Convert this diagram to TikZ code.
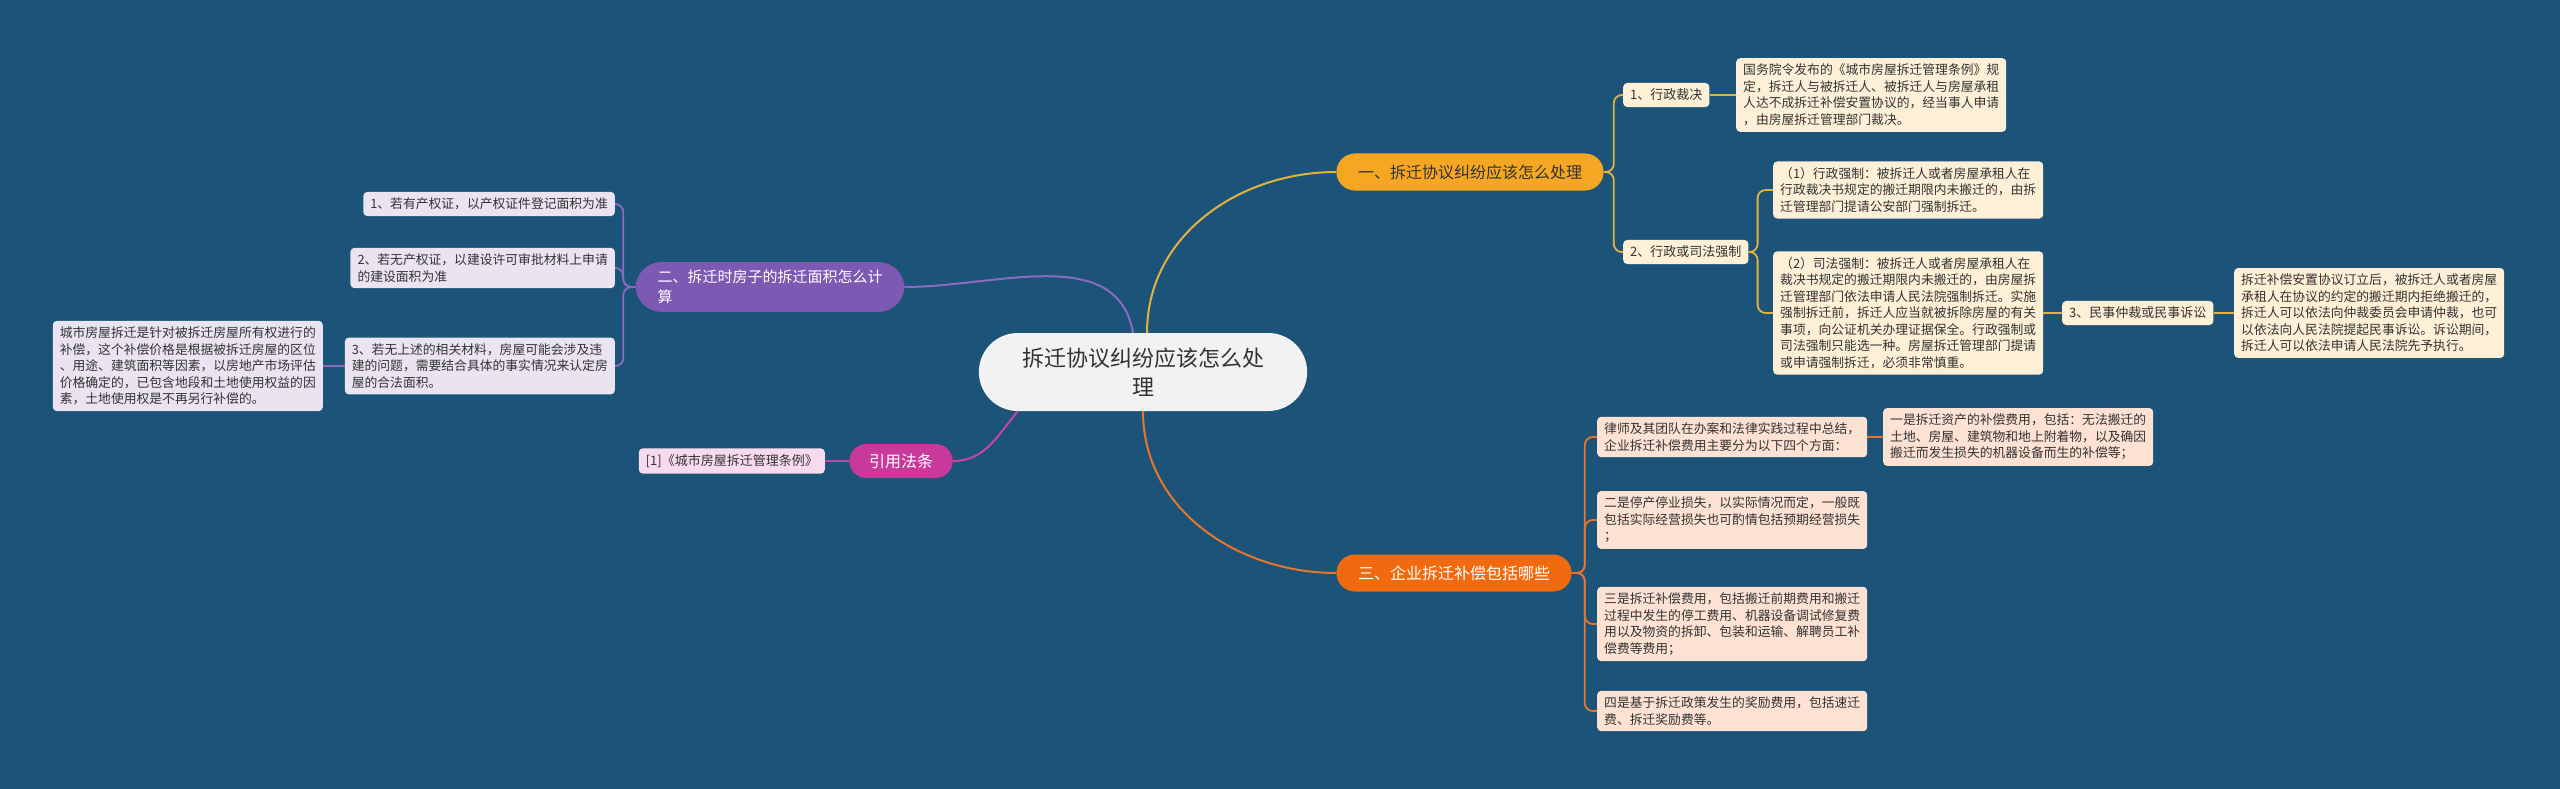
\documentclass[tikz,border=0pt]{standalone}
\usepackage{fontspec}
\setmainfont{Noto Sans CJK SC}
\usepackage{tikz}
\usetikzlibrary{shapes.misc}
\definecolor{bgblue}{HTML}{1B5478}
\definecolor{rootfill}{HTML}{F2F2F2}
\definecolor{txtdark}{HTML}{333333}
\definecolor{orgA}{HTML}{F5A623}
\definecolor{orgAline}{HTML}{E3B13E}
\definecolor{orgAbox}{HTML}{FDF0D6}
\definecolor{orgB}{HTML}{F26A10}
\definecolor{orgBline}{HTML}{E9742B}
\definecolor{orgBbox}{HTML}{FDE1D2}
\definecolor{purp}{HTML}{7E59B4}
\definecolor{purpline}{HTML}{8C6AC3}
\definecolor{purpbox}{HTML}{E9E3F2}
\definecolor{mag}{HTML}{C8399B}
\definecolor{magline}{HTML}{C8459E}
\definecolor{magbox}{HTML}{F7DAEE}
\tikzset{
  root/.style={rounded rectangle, fill=rootfill, text=txtdark, minimum width=335pt, minimum height=78pt, align=center, font=\fontsize{22}{29}\selectfont},
  branch/.style={rounded rectangle, inner xsep=20pt, minimum height=37pt, font=\fontsize{16}{21}\selectfont},
  subtopic/.style={rectangle, rounded corners=4pt, inner xsep=7pt, inner ysep=6pt, text=txtdark, font=\fontsize{13}{16}\selectfont},
  detail/.style={rectangle, rounded corners=4pt, inner xsep=7pt, inner ysep=6pt, align=left, text=txtdark, font=\fontsize{12.8}{16.5}\selectfont},
  link/.style={line width=2pt},
  forkline/.style={line width=1.8pt, rounded corners=8pt}
}
\begin{document}
\begin{tikzpicture}[x=1pt,y=-1pt]
  \fill[bgblue] (0,0) rectangle (2560,789);
  \useasboundingbox (0,0) rectangle (2560,789);
  % centre and main branches
  \node[root] (root) at (1143,372) {拆迁协议纠纷应该怎么处\\理};
  \node[branch, fill=orgA, text=txtdark] (b1) at (1470,172) {一、拆迁协议纠纷应该怎么处理};
  \node[branch, fill=orgB, text=white] (b3) at (1454,573) {三、企业拆迁补偿包括哪些};
  \node[rectangle, rounded corners=26pt, fill=purp, text=white, align=left, inner xsep=22pt, inner ysep=8pt, font=\fontsize{15}{20}\selectfont] (b2) at (770,287) {二、拆迁时房子的拆迁面积怎么计\\算};
  \node[branch, fill=mag, text=white, inner xsep=18pt, minimum height=34pt] (b4) at (901,461) {引用法条};
  % branch one
  \node[subtopic, fill=orgAbox, anchor=west] (c11) at (1623,95) {1、行政裁决};
  \node[detail, fill=orgAbox, anchor=west] (d11) at (1736,95) {国务院令发布的《城市房屋拆迁管理条例》规\\定，拆迁人与被拆迁人、被拆迁人与房屋承租\\人达不成拆迁补偿安置协议的，经当事人申请\\，由房屋拆迁管理部门裁决。};
  \node[subtopic, fill=orgAbox, anchor=west] (c12) at (1623,252) {2、行政或司法强制};
  \node[detail, fill=orgAbox, anchor=west] (d121) at (1773,190) {（1）行政强制：被拆迁人或者房屋承租人在\\行政裁决书规定的搬迁期限内未搬迁的，由拆\\迁管理部门提请公安部门强制拆迁。};
  \node[detail, fill=orgAbox, anchor=west] (d122) at (1773,313) {（2）司法强制：被拆迁人或者房屋承租人在\\裁决书规定的搬迁期限内未搬迁的，由房屋拆\\迁管理部门依法申请人民法院强制拆迁。实施\\强制拆迁前，拆迁人应当就被拆除房屋的有关\\事项，向公证机关办理证据保全。行政强制或\\司法强制只能选一种。房屋拆迁管理部门提请\\或申请强制拆迁，必须非常慎重。};
  \node[subtopic, fill=orgAbox, anchor=west] (c13) at (2062,313) {3、民事仲裁或民事诉讼};
  \node[detail, fill=orgAbox, anchor=west] (d13) at (2234,313) {拆迁补偿安置协议订立后，被拆迁人或者房屋\\承租人在协议的约定的搬迁期内拒绝搬迁的，\\拆迁人可以依法向仲裁委员会申请仲裁，也可\\以依法向人民法院提起民事诉讼。诉讼期间，\\拆迁人可以依法申请人民法院先予执行。};
  % branch three
  \node[detail, fill=orgBbox, anchor=west] (e0) at (1597,437) {律师及其团队在办案和法律实践过程中总结，\\企业拆迁补偿费用主要分为以下四个方面：};
  \node[detail, fill=orgBbox, anchor=west] (e1) at (1883,437) {一是拆迁资产的补偿费用，包括：无法搬迁的\\土地、房屋、建筑物和地上附着物，以及确因\\搬迁而发生损失的机器设备而生的补偿等；};
  \node[detail, fill=orgBbox, anchor=west] (e2) at (1597,520) {二是停产停业损失，以实际情况而定，一般既\\包括实际经营损失也可酌情包括预期经营损失\\；};
  \node[detail, fill=orgBbox, anchor=west] (e3) at (1597,624) {三是拆迁补偿费用，包括搬迁前期费用和搬迁\\过程中发生的停工费用、机器设备调试修复费\\用以及物资的拆卸、包装和运输、解聘员工补\\偿费等费用；};
  \node[detail, fill=orgBbox, anchor=west] (e4) at (1597,711) {四是基于拆迁政策发生的奖励费用，包括速迁\\费、拆迁奖励费等。};
  % branch two
  \node[detail, fill=purpbox, anchor=east] (l1) at (615,204) {1、若有产权证，以产权证件登记面积为准};
  \node[detail, fill=purpbox, anchor=east] (l2) at (615,268) {2、若无产权证，以建设许可审批材料上申请\\的建设面积为准};
  \node[detail, fill=purpbox, anchor=east] (l3) at (615,366) {3、若无上述的相关材料，房屋可能会涉及违\\建的问题，需要结合具体的事实情况来认定房\\屋的合法面积。};
  \node[detail, fill=purpbox, anchor=east] (l4) at (323,366) {城市房屋拆迁是针对被拆迁房屋所有权进行的\\补偿，这个补偿价格是根据被拆迁房屋的区位\\、用途、建筑面积等因素，以房地产市场评估\\价格确定的，已包含地段和土地使用权益的因\\素，土地使用权是不再另行补偿的。};
  \node[subtopic, fill=magbox, anchor=east] (f1) at (825,461) {[1]《城市房屋拆迁管理条例》};
  % connectors
  \draw[link, orgAline] ([xshift=4pt]root.north) to[out=90,in=180] (b1.west);
  \draw[link, orgBline] (root.south) to[out=-90,in=180] (b3.west);
  \draw[link, purpline] (b2.east) to[out=0,in=100] ([xshift=-10pt]root.north);
  \draw[link, magline] (b4.east) to[out=0,in=230] (root.south west);
  \foreach \nd in {c11,c12} {\draw[forkline, orgAline] (b1.east) -- ++(10,0) |- (\nd.west);}
  \foreach \nd in {d121,d122} {\draw[forkline, orgAline] (c12.east) -- ++(9,0) |- (\nd.west);}
  \draw[link, orgAline] (c11.east) -- (d11.west);
  \draw[link, orgAline] (d122.east) -- (c13.west);
  \draw[link, orgAline] (c13.east) -- (d13.west);
  \foreach \nd in {e0,e2,e3,e4} {\draw[forkline, orgBline] (b3.east) -- ++(13,0) |- (\nd.west);}
  \draw[link, orgBline] (e0.east) -- (e1.west);
  \foreach \nd in {l1,l2,l3} {\draw[forkline, purpline] (b2.west) -- ++(-12,0) |- (\nd.east);}
  \draw[link, purpline] (l3.west) -- (l4.east);
  \draw[link, magline] (b4.west) -- (f1.east);
\end{tikzpicture}
\end{document}
